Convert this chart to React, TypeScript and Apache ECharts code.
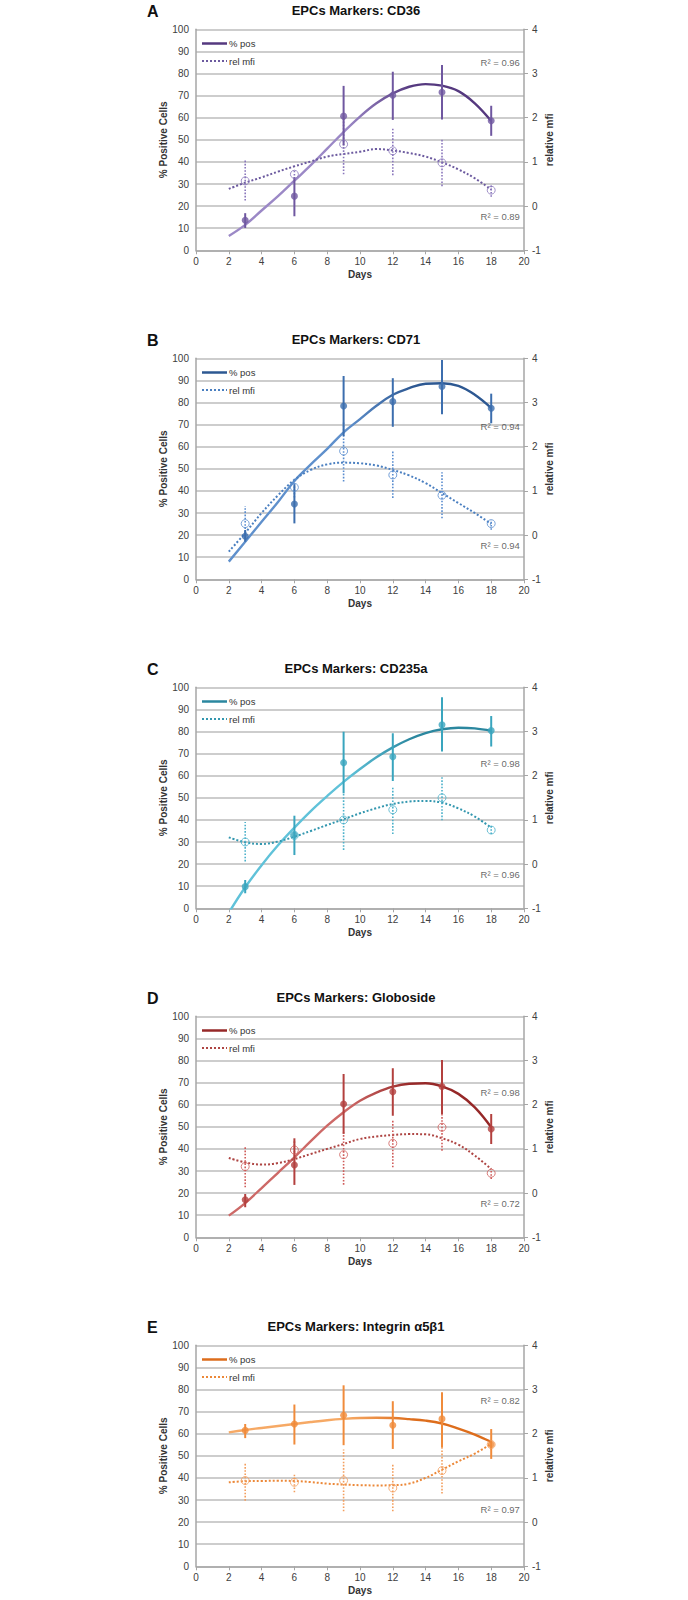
import React, { useEffect, useRef } from "react";
import * as echarts from "echarts";

// ---------- data ----------
const days = [3, 6, 9, 12, 15, 18];
const trendDays = [2, 3, 4, 5, 6, 7, 8, 9, 10, 11, 12, 13, 14, 15, 16, 17, 18];
const panelLetters = ["A", "B", "C", "D", "E"];
const panelTitles = [
  "EPCs Markers: CD36",
  "EPCs Markers: CD71",
  "EPCs Markers: CD235a",
  "EPCs Markers: Globoside",
  "EPCs Markers: Integrin \u03b15\u03b21",
];
const legendNames = ["% pos", "rel mfi"];
const xTicks = [0, 2, 4, 6, 8, 10, 12, 14, 16, 18, 20];
const leftTicks = [0, 10, 20, 30, 40, 50, 60, 70, 80, 90, 100];
const rightTicks = [-1, 0, 1, 2, 3, 4];

// % positive cells (left axis)
const posA = [13.6, 24.5, 60.7, 70.2, 71.5, 58.6];
const posLowA = [10.1, 15.4, 47.5, 59, 59.2, 51.8];
const posHighA = [16.8, 33, 74.4, 80.8, 83.8, 65.4];
const posB = [19.5, 34.1, 78.4, 80.4, 87.2, 77.4];
const posLowB = [17, 25.3, 64.8, 69, 74.7, 70.6];
const posHighB = [22.3, 43, 92, 91, 99.2, 84];
const posC = [9.8, 33.2, 65.9, 68.6, 83, 80.4];
const posLowC = [6.8, 24.1, 52, 57.6, 70.9, 73.2];
const posHighC = [12.8, 41.9, 79.9, 79.2, 95.5, 87];
const posD = [17, 32.7, 60.3, 65.9, 68.2, 49];
const posLowD = [13.6, 23.7, 46.8, 55, 55.8, 42.2];
const posHighD = [19.6, 44.8, 73.9, 76.5, 80.2, 55.8];
const posE = [61.5, 64.4, 68.3, 63.8, 66.7, 55.1];
const posLowE = [58, 55.1, 54.8, 53.1, 53.8, 48.6];
const posHighE = [64.4, 73.2, 81.9, 74.7, 78.7, 62.1];

// relative mfi (right axis)
const mfiA = [0.57, 0.72, 1.4, 1.25, 0.98, 0.36];
const mfiLowA = [0.125, 0.62, 0.72, 0.7, 0.45, 0.21];
const mfiHighA = [1.04, 0.84, 2.05, 1.75, 1.5, 0.49];
const mfiB = [0.26, 1.08, 1.9, 1.36, 0.9, 0.26];
const mfiLowB = [-0.15, 0.85, 1.21, 0.84, 0.38, 0.12];
const mfiHighB = [0.66, 1.29, 2.55, 1.89, 1.42, 0.34];
const mfiC = [0.5, 0.65, 1.0, 1.23, 1.5, 0.77];
const mfiLowC = [0.06, 0.55, 0.32, 0.68, 0.99, 0.68];
const mfiHighC = [0.95, 0.75, 1.6, 1.74, 1.98, 0.89];
const mfiD = [0.6, 0.975, 0.87, 1.125, 1.49, 0.45];
const mfiLowD = [0.13, 0.7, 0.19, 0.585, 0.96, 0.32];
const mfiHighD = [1.05, 1.185, 1.375, 1.655, 1.79, 0.55];
const mfiE = [0.94, 0.9, 0.94, 0.77, 1.165, 1.755];
const mfiLowE = [0.485, 0.675, 0.245, 0.245, 0.645, 1.64];
const mfiHighE = [1.35, 1.11, 1.64, 1.3, 1.715, 1.865];

// fitted trend lines (days 2..18)
const trendPosA = [6.5, 11.5, 18, 24.5, 31.5, 38.5, 46, 53.5, 60.5, 66.5, 71, 74, 75.2, 74.5, 72, 66.5, 58.5];
const trendMfiA = [0.39, 0.53, 0.65, 0.78, 0.9, 1.01, 1.12, 1.18, 1.23, 1.29, 1.26, 1.2, 1.12, 0.99, 0.83, 0.63, 0.375];
const trendPosB = [8, 17, 26, 35, 44.5, 52, 59, 66.5, 72.5, 78.5, 83.5, 86.5, 88.5, 88.7, 87.5, 83.5, 77.5];
const trendMfiB = [-0.375, 0.05, 0.5, 0.9, 1.25, 1.475, 1.6, 1.64, 1.625, 1.575, 1.475, 1.35, 1.175, 0.95, 0.725, 0.5, 0.25];
const trendPosC = [-2, 9.5, 19.5, 28.5, 36.5, 44, 50.8, 57.2, 63, 68.3, 72.8, 76.5, 79.3, 81, 81.7, 81.4, 80.3];
const trendMfiC = [0.605, 0.495, 0.455, 0.51, 0.62, 0.75, 0.885, 1.015, 1.15, 1.265, 1.36, 1.415, 1.43, 1.39, 1.26, 1.075, 0.825];
const trendPosD = [9.8, 15.5, 22.3, 29.2, 36.2, 43.5, 50.5, 56.6, 61.8, 65.5, 68.2, 69.5, 69.7, 68.3, 64.9, 58.8, 49.8];
const trendMfiD = [0.795, 0.695, 0.645, 0.68, 0.77, 0.885, 1.0, 1.11, 1.225, 1.28, 1.315, 1.335, 1.33, 1.24, 1.095, 0.85, 0.545];
const trendPosE = [60.6, 61.7, 62.6, 63.5, 64.4, 65.3, 66.1, 66.7, 67.1, 67.2, 67.1, 66.6, 65.9, 64.6, 62.3, 59.6, 56.3];
const trendMfiE = [0.9, 0.925, 0.93, 0.935, 0.93, 0.905, 0.87, 0.85, 0.835, 0.83, 0.835, 0.87, 1.0, 1.185, 1.375, 1.55, 1.77];

// R² annotations: text and the % scale height at which they sit
const r2Texts = [
  ["R\u00b2 = 0.96", "R\u00b2 = 0.89"],
  ["R\u00b2 = 0.94", "R\u00b2 = 0.94"],
  ["R\u00b2 = 0.98", "R\u00b2 = 0.96"],
  ["R\u00b2 = 0.98", "R\u00b2 = 0.72"],
  ["R\u00b2 = 0.82", "R\u00b2 = 0.97"],
];
const r2Heights = [
  [84.9, 15.2],
  [69, 15.2],
  [65.6, 15.5],
  [65.6, 15.1],
  [75, 25.6],
];

// ---------- styles ----------
const palettes = [
  { mark: "#6F57A0", light: "#9B88C6", dark: "#55397F", dot: "#6C5A9F", ring: "#8A77BC" },
  { mark: "#3C6EAE", light: "#5F90CC", dark: "#2D5892", dot: "#4A7FC0", ring: "#5A8DCF" },
  { mark: "#39A5BE", light: "#60C2D9", dark: "#2B879F", dot: "#3397AF", ring: "#4CB1CA" },
  { mark: "#B3403E", light: "#CD6967", dark: "#962828", dot: "#AE4543", ring: "#CF5C5A" },
  { mark: "#F08B3B", light: "#F6A965", dark: "#DD6D1C", dot: "#EC8838", ring: "#F39E5D" },
];

const FONT = "'Liberation Sans', Arial, sans-serif";
const PANEL_STEP = 329;
const GRID_TOP = 29.3;
const GRID_LEFT = 196;
const GRID_W = 328;
const GRID_H = 221;

const panels = [
  { pos: posA, lo: posLowA, hi: posHighA, mfi: mfiA, mlo: mfiLowA, mhi: mfiHighA, tp: trendPosA, tm: trendMfiA },
  { pos: posB, lo: posLowB, hi: posHighB, mfi: mfiB, mlo: mfiLowB, mhi: mfiHighB, tp: trendPosB, tm: trendMfiB },
  { pos: posC, lo: posLowC, hi: posHighC, mfi: mfiC, mlo: mfiLowC, mhi: mfiHighC, tp: trendPosC, tm: trendMfiC },
  { pos: posD, lo: posLowD, hi: posHighD, mfi: mfiD, mlo: mfiLowD, mhi: mfiHighD, tp: trendPosD, tm: trendMfiD },
  { pos: posE, lo: posLowE, hi: posHighE, mfi: mfiE, mlo: mfiLowE, mhi: mfiHighE, tp: trendPosE, tm: trendMfiE },
];

function errRender(color: string, dashed: boolean, width: number) {
  return (params: any, api: any) => {
    const x = api.value(0);
    const p1 = api.coord([x, api.value(1)]);
    const p2 = api.coord([x, api.value(2)]);
    return {
      type: "line",
      shape: { x1: p1[0], y1: p1[1], x2: p2[0], y2: p2[1] },
      style: { stroke: color, lineWidth: width, lineDash: dashed ? [1.6, 1.6] : null },
    };
  };
}

function buildOption() {
  const grids: any[] = [];
  const xAxes: any[] = [];
  const yAxes: any[] = [];
  const series: any[] = [];
  const graphics: any[] = [];

  panels.forEach((p, i) => {
    const pal = palettes[i];
    const top = GRID_TOP + PANEL_STEP * i;
    grids.push({ left: GRID_LEFT, top, width: GRID_W, height: GRID_H, containLabel: false });
    xAxes.push({
      type: "value",
      gridIndex: i,
      min: xTicks[0],
      max: xTicks[xTicks.length - 1],
      interval: 2,
      name: "Days",
      nameLocation: "middle",
      nameGap: 19,
      nameTextStyle: { fontFamily: FONT, fontWeight: "bold", fontSize: 10, color: "#333" },
      axisLine: { show: true, lineStyle: { color: "#A6A6A6", width: 1.5 } },
      axisTick: { show: true, length: 4, lineStyle: { color: "#A6A6A6" } },
      axisLabel: { fontFamily: FONT, fontSize: 10, color: "#404040", margin: 6 },
      splitLine: { show: false },
    });
    yAxes.push({
      type: "value",
      gridIndex: i,
      position: "left",
      min: leftTicks[0],
      max: leftTicks[leftTicks.length - 1],
      interval: 10,
      name: "% Positive Cells",
      nameLocation: "middle",
      nameGap: 26,
      nameRotate: 90,
      nameTextStyle: { fontFamily: FONT, fontWeight: "bold", fontSize: 10, color: "#333" },
      axisLine: { show: true, lineStyle: { color: "#A6A6A6", width: 1.5 } },
      axisTick: { show: false },
      axisLabel: { fontFamily: FONT, fontSize: 10, color: "#404040", margin: 7 },
      splitLine: { show: true, lineStyle: { color: "#BDBDBD", width: 1.5 } },
    });
    yAxes.push({
      type: "value",
      gridIndex: i,
      position: "right",
      min: rightTicks[0],
      max: rightTicks[rightTicks.length - 1],
      interval: 1,
      name: "relative mfi",
      nameLocation: "middle",
      nameGap: 20,
      nameRotate: 90,
      nameTextStyle: { fontFamily: FONT, fontWeight: "bold", fontSize: 10, color: "#333" },
      axisLine: { show: true, lineStyle: { color: "#A6A6A6", width: 1.5 } },
      axisTick: { show: true, length: 4, lineStyle: { color: "#A6A6A6" } },
      axisLabel: { fontFamily: FONT, fontSize: 10, color: "#404040", margin: 8 },
      splitLine: { show: false },
    });
    const yL = i * 2;
    const yR = i * 2 + 1;

    // trend lines
    series.push({
      type: "line",
      xAxisIndex: i,
      yAxisIndex: yL,
      data: trendDays.map((d, k) => [d, p.tp[k]]),
      smooth: 0.4,
      showSymbol: false,
      symbol: "none",
      clip: true,
      silent: true,
      z: 2,
      lineStyle: {
        width: 2.4,
        color: new echarts.graphic.LinearGradient(0, 0, 1, 0, [
          { offset: 0, color: pal.light },
          { offset: 0.45, color: pal.light },
          { offset: 0.7, color: pal.dark },
          { offset: 1, color: pal.dark },
        ]),
      },
    });
    series.push({
      type: "line",
      xAxisIndex: i,
      yAxisIndex: yR,
      data: trendDays.map((d, k) => [d, p.tm[k]]),
      smooth: 0.4,
      showSymbol: false,
      symbol: "none",
      clip: true,
      silent: true,
      z: 2,
      lineStyle: { width: 2, color: pal.dot, type: [2, 2] },
    });

    // error bars
    series.push({
      type: "custom",
      xAxisIndex: i,
      yAxisIndex: yR,
      data: days.map((d, k) => [d, p.mlo[k], p.mhi[k]]),
      encode: { x: 0, y: [1, 2] },
      renderItem: errRender(pal.ring, true, 1.6),
      silent: true,
      z: 3,
    });
    series.push({
      type: "custom",
      xAxisIndex: i,
      yAxisIndex: yL,
      data: days.map((d, k) => [d, p.lo[k], p.hi[k]]),
      encode: { x: 0, y: [1, 2] },
      renderItem: errRender(pal.mark, false, 2),
      silent: true,
      z: 3,
    });

    // points
    series.push({
      type: "scatter",
      xAxisIndex: i,
      yAxisIndex: yR,
      data: days.map((d, k) => [d, p.mfi[k]]),
      symbol: "circle",
      symbolSize: 8,
      silent: true,
      z: 4,
      itemStyle: { color: "rgba(255,255,255,0)", borderColor: pal.ring, borderWidth: 1 },
    });
    series.push({
      type: "scatter",
      xAxisIndex: i,
      yAxisIndex: yL,
      data: days.map((d, k) => [d, p.pos[k]]),
      symbol: "circle",
      symbolSize: 7,
      silent: true,
      z: 5,
      itemStyle: { color: pal.mark },
    });

    // R² labels
    series.push({
      type: "scatter",
      xAxisIndex: i,
      yAxisIndex: yL,
      data: r2Heights[i].map((h) => [19.78, h]),
      symbol: "circle",
      symbolSize: 1,
      silent: true,
      z: 6,
      itemStyle: { color: "rgba(0,0,0,0)" },
      label: {
        show: true,
        position: "left",
        distance: 0,
        fontFamily: FONT,
        fontSize: 9.5,
        color: "#404040",
        formatter: (prm: any) => r2Texts[i][prm.dataIndex],
      },
    });

    // titles, panel letters, legend
    const off = PANEL_STEP * i;
    graphics.push({
      type: "text",
      left: 147,
      top: off + 3,
      style: { text: panelLetters[i], font: `bold 16px ${FONT}`, fill: "#111" },
    });
    graphics.push({
      type: "text",
      x: 356,
      y: off + 10.5,
      style: {
        text: panelTitles[i],
        font: `bold 13px ${FONT}`,
        fill: "#111",
        align: "center",
        verticalAlign: "middle",
      },
    });
    const ly1 = top + 14.2;
    const ly2 = top + 31.8;
    graphics.push({
      type: "line",
      shape: { x1: 202, y1: ly1, x2: 227, y2: ly1 },
      style: { stroke: pal.dark, lineWidth: 2.5 },
    });
    graphics.push({
      type: "line",
      shape: { x1: 202, y1: ly2, x2: 227, y2: ly2 },
      style: { stroke: pal.dot, lineWidth: 2, lineDash: [2, 2] },
    });
    graphics.push({
      type: "text",
      x: 229,
      y: ly1,
      style: { text: legendNames[0], font: `9.5px ${FONT}`, fill: "#333", verticalAlign: "middle" },
    });
    graphics.push({
      type: "text",
      x: 229,
      y: ly2,
      style: { text: legendNames[1], font: `9.5px ${FONT}`, fill: "#333", verticalAlign: "middle" },
    });
  });

  return {
    animation: false,
    backgroundColor: "#ffffff",
    grid: grids,
    xAxis: xAxes,
    yAxis: yAxes,
    series,
    graphic: graphics,
  };
}

export default function App() {
  const ref = useRef<HTMLDivElement>(null);
  useEffect(() => {
    document.body.style.margin = "0";
    if (!ref.current) return;
    const chart = echarts.init(ref.current, undefined, { renderer: "svg" });
    chart.setOption(buildOption() as any);
    return () => chart.dispose();
  }, []);
  return <div ref={ref} style={{ width: 688, height: 1600, background: "#fff" }} />;
}
